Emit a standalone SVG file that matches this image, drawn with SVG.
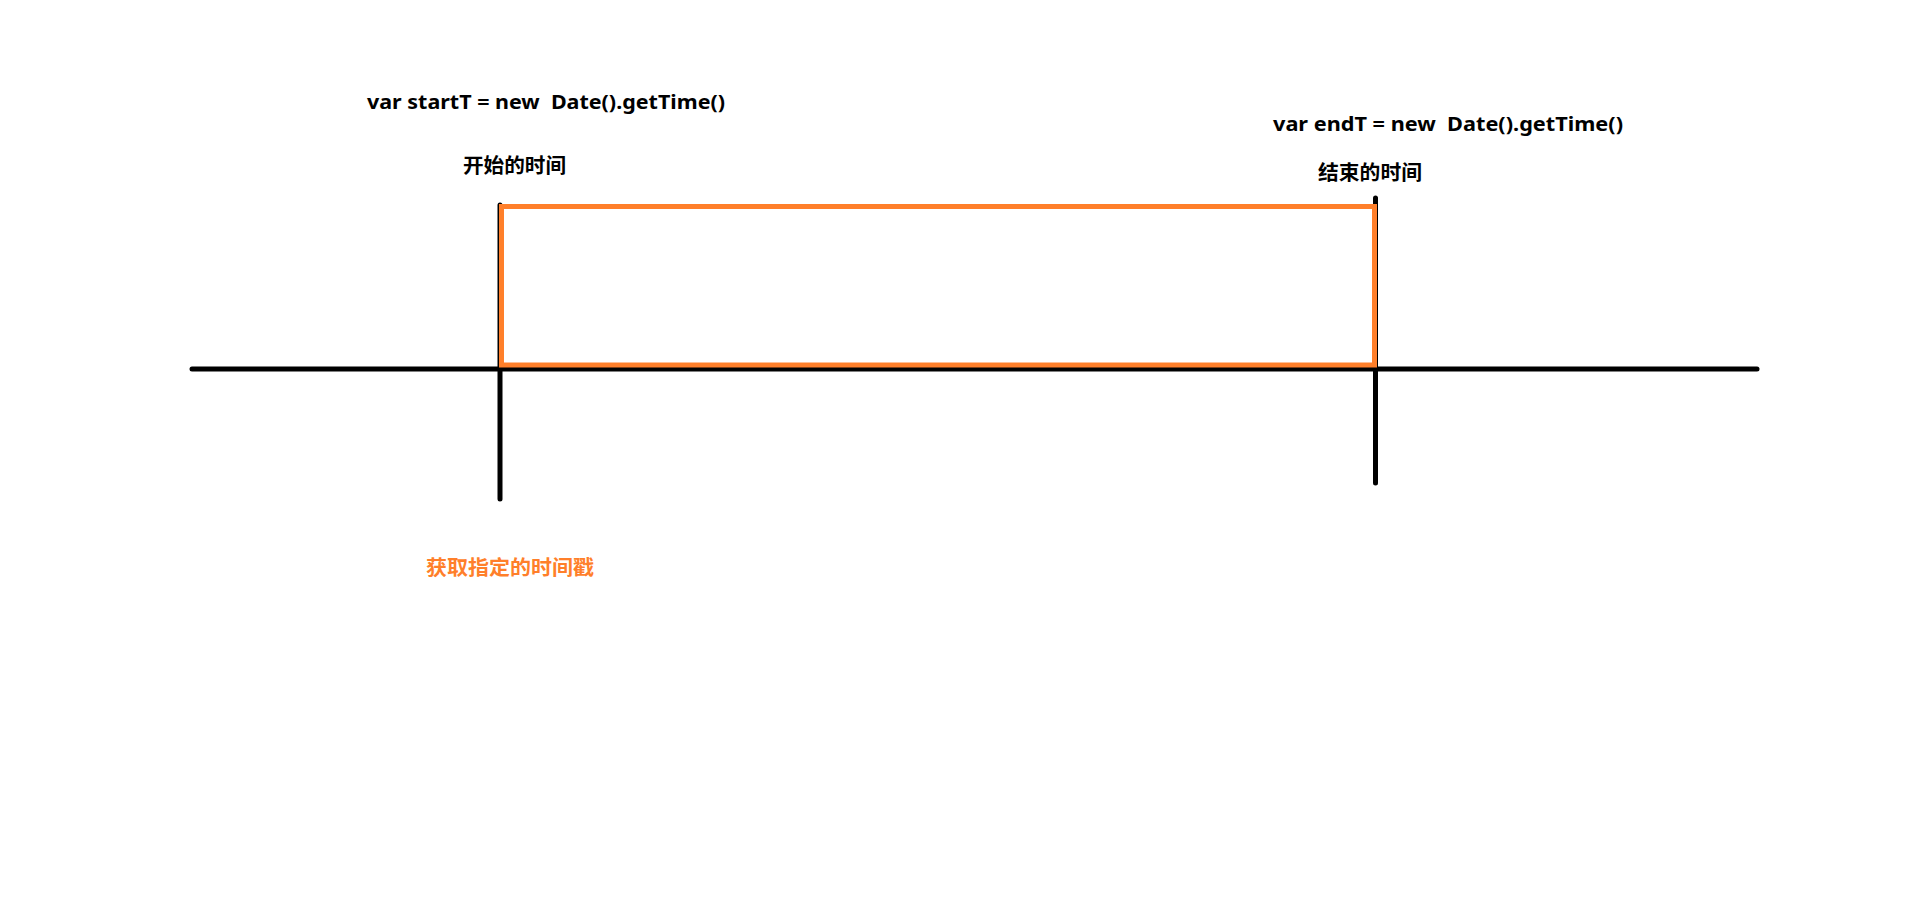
<svg xmlns="http://www.w3.org/2000/svg" width="1914" height="916" viewBox="0 0 1914 916">
<style>
.code{font-family:"Noto Sans","Noto Sans CJK SC",sans-serif;font-weight:bold;font-size:20px;fill:#000;white-space:pre}
.cjk{font-family:"Noto Sans CJK SC",sans-serif;font-weight:bold;font-size:20px;fill:#000}
.orange{fill:#ff7f2a}
.axis{stroke:#000;stroke-width:5;stroke-linecap:round;fill:none}
.box{stroke:#ff7f2a;stroke-width:5;fill:none}
</style>
<rect width="1914" height="916" fill="#fff"/>
<g id="connectors">
<line class="axis" x1="192" y1="369" x2="1757" y2="369"/>
<line class="axis" x1="500" y1="205" x2="500" y2="499"/>
<line class="axis" x1="1375.5" y1="198" x2="1375.5" y2="483"/>
</g>
<g id="range-box">
<rect class="box" x="501.5" y="206.5" width="873" height="158.5"/>
</g>
<g id="start-label">
<text class="code" x="367" y="109" textLength="358" lengthAdjust="spacingAndGlyphs" xml:space="preserve">var startT = new  Date().getTime()</text>
<text class="cjk" x="463" y="173" textLength="103" lengthAdjust="spacingAndGlyphs">开始的时间</text>
</g>
<g id="end-label">
<text class="code" x="1273" y="131" textLength="350" lengthAdjust="spacingAndGlyphs" xml:space="preserve">var endT = new  Date().getTime()</text>
<text class="cjk" x="1318" y="180" textLength="104" lengthAdjust="spacingAndGlyphs">结束的时间</text>
</g>
<g id="timestamp-label">
<text class="cjk orange" x="426" y="575" textLength="168" lengthAdjust="spacingAndGlyphs">获取指定的时间戳</text>
</g>
</svg>
